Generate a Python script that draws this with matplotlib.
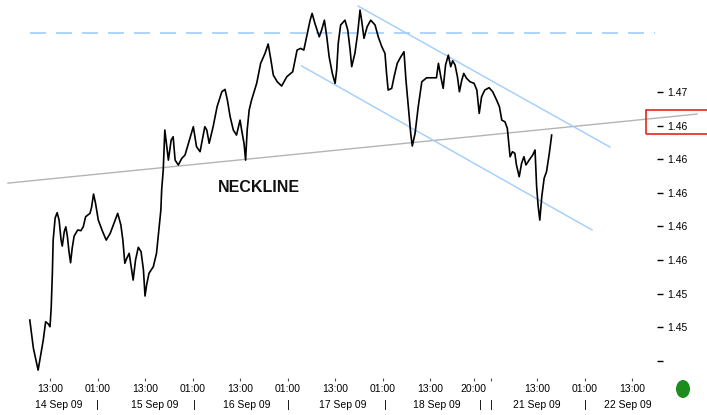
import matplotlib
matplotlib.use("Agg")
import matplotlib.pyplot as plt
from matplotlib.patches import Rectangle, Ellipse
import numpy as np

plt.rcParams['font.family'] = ['Liberation Sans', 'DejaVu Sans']

# price path, x = chart hours from 14 Sep 00:00 (weekend squeezed)
hours = [7.9, 8.8, 10.0, 11.3, 11.9, 12.6, 13.0, 13.3, 13.6, 13.8,
         14.3, 14.8, 15.3, 15.8, 16.1, 16.6, 17.0, 17.4, 17.8, 18.2,
         18.6, 19.1, 20.0, 20.8, 21.4, 22.0, 23.1, 23.5, 24.0, 24.5,
         25.2, 26.2, 27.2, 28.2, 29.0, 30.1, 30.9, 31.4, 31.9, 32.4,
         33.0, 33.5, 34.0, 34.6, 35.3, 36.0, 36.6, 37.0, 37.4, 38.0,
         39.1, 39.9, 40.5, 41.0, 41.2, 41.6, 42.0, 42.9, 43.6, 44.1,
         44.6, 45.4, 46.3, 47.1, 48.2, 49.2, 50.0, 50.9, 52.1, 52.6,
         53.2, 54.2, 55.2, 56.4, 57.2, 57.8, 58.5, 59.3, 60.1, 61.0,
         61.4, 62.0, 62.4, 62.8, 63.3, 63.9, 65.2, 66.2, 67.3, 68.1,
         68.8, 69.4, 70.4, 71.5, 72.8, 74.3, 74.9, 75.4, 76.3, 77.1,
         77.8, 78.7, 79.2, 79.9, 81.0, 81.6, 82.3, 82.9, 83.5, 84.3,
         85.0, 85.4, 85.8, 86.4, 87.5, 88.2, 88.8, 89.2, 90.0, 90.7,
         91.3, 91.7, 92.3, 93.1, 94.0, 95.1, 95.9, 96.8, 97.6, 98.0,
         98.4, 99.3, 99.9, 100.7, 101.6, 102.4, 102.9, 103.5, 104.1, 104.5,
         105.2, 106.0, 106.9, 108.1, 110.6, 111.1, 111.7, 112.3, 112.9, 113.6,
         114.2, 114.7, 115.3, 115.9, 116.4, 117.0, 117.5, 118.2, 119.1, 120.1,
         120.8, 121.4, 122.0, 122.8, 123.9, 124.8, 125.8, 126.5, 127.1, 127.9,
         128.5, 129.2, 129.8, 130.4, 130.8, 131.5, 132.1, 132.7, 133.2, 134.0,
         134.9, 135.5, 135.9, 136.3, 136.7, 137.2, 137.8, 138.4, 139.1, 139.7]
price = [1.45643, 1.45476, 1.45345, 1.45524, 1.45633, 1.45619, 1.45603, 1.45714, 1.45923, 1.46119,
         1.46250, 1.46282, 1.46238, 1.46119, 1.46083, 1.46169, 1.46198, 1.46139, 1.46050, 1.45984,
         1.46070, 1.46143, 1.46179, 1.46175, 1.46198, 1.46258, 1.46278, 1.46314, 1.46393, 1.46338,
         1.46238, 1.46175, 1.46119, 1.46159, 1.46209, 1.46278, 1.46209, 1.46119, 1.45981, 1.46011,
         1.46040, 1.45961, 1.45881, 1.46000, 1.46076, 1.46050, 1.45941, 1.45786, 1.45852, 1.45921,
         1.45961, 1.46040, 1.46179, 1.46298, 1.46417, 1.46536, 1.46774, 1.46595, 1.46714, 1.46734,
         1.46595, 1.46566, 1.46606, 1.46625, 1.46714, 1.46794, 1.46675, 1.46645, 1.46794, 1.46774,
         1.46695, 1.46794, 1.46913, 1.47002, 1.47016, 1.46952, 1.46853, 1.46774, 1.46744, 1.46833,
         1.46774, 1.46695, 1.46595, 1.46774, 1.46893, 1.46952, 1.47052, 1.47171, 1.47230, 1.47286,
         1.47190, 1.47101, 1.47061, 1.47036, 1.47091, 1.47121, 1.47190, 1.47250, 1.47260, 1.47250,
         1.47329, 1.47428, 1.47468, 1.47409, 1.47329, 1.47369, 1.47428, 1.47329, 1.47210, 1.47111,
         1.47052, 1.47131, 1.47290, 1.47399, 1.47428, 1.47369, 1.47250, 1.47151, 1.47230, 1.47349,
         1.47488, 1.47428, 1.47320, 1.47389, 1.47428, 1.47399, 1.47329, 1.47270, 1.47230, 1.47111,
         1.47012, 1.47022, 1.47091, 1.47171, 1.47210, 1.47240, 1.47071, 1.46913, 1.46754, 1.46679,
         1.46754, 1.46913, 1.47061, 1.47085, 1.47085, 1.47171, 1.47091, 1.47022, 1.47161, 1.47220,
         1.47151, 1.47186, 1.47161, 1.47091, 1.47002, 1.47071, 1.47111, 1.47082, 1.47061, 1.47052,
         1.47012, 1.46873, 1.46972, 1.47012, 1.47026, 1.47002, 1.46952, 1.46913, 1.46833, 1.46823,
         1.46784, 1.46615, 1.46645, 1.46635, 1.46566, 1.46496, 1.46576, 1.46615, 1.46566, 1.46595,
         1.46625, 1.46655, 1.46437, 1.46318, 1.46238, 1.46377, 1.46487, 1.46526, 1.46635, 1.46744]

# drawn lines (start/end)
resist_x = [7.9, 165.8]
resist_y = [1.47351, 1.47351]
neck_x = [2.4, 176.4]
neck_y = [1.46458, 1.46869]
chan_up_x = [90.8, 154.4]
chan_up_y = [1.47512, 1.46673]
chan_lo_x = [76.6, 149.9]
chan_lo_y = [1.47155, 1.46179]

# axis labels
ytick_vals = [1.470, 1.468, 1.466, 1.464, 1.462, 1.460, 1.458, 1.456, 1.454]
ytick_txt = ["1.47", "1.46", "1.46", "1.46", "1.46", "1.46", "1.45", "1.45", ""]
xtick_vals = [13, 25, 37, 49, 61, 73, 85, 97, 109, 120, 124.5, 136, 148, 160]
xtick_txt = ["13:00", "01:00", "13:00", "01:00", "13:00", "01:00", "13:00",
             "01:00", "13:00", "20:00", "", "13:00", "01:00", "13:00"]
day_pos = [15.3, 39.5, 62.7, 87.0, 110.7, 136.0, 159.0]
day_txt = ["14 Sep 09", "15 Sep 09", "16 Sep 09", "17 Sep 09",
           "18 Sep 09", "21 Sep 09", "22 Sep 09"]
sep_pos = [24.9, 49.4, 73.1, 97.6, 121.6, 124.4, 148.3]

fig = plt.figure(figsize=(7.07, 4.15), dpi=100)
ax = fig.add_axes([0.0, 37 / 415, 657 / 707, 378 / 415])

blue = "#9fcdfb"
ax.plot(resist_x, resist_y, color=blue, lw=1.2, dashes=(9.6, 6))
ax.plot(neck_x, neck_y, color="#b4b4b4", lw=1.0, clip_on=False)
ax.plot(chan_up_x, chan_up_y, color=blue, lw=1.0)
ax.plot(chan_lo_x, chan_lo_y, color=blue, lw=1.0)
ax.plot(hours, price, color="black", lw=1.2)

ax.text(65.8, 1.46429, "NECKLINE", fontsize=11.5, fontweight="bold",
        ha="center", va="center", color="#111111")

ax.set_xlim(0.374, 166.3)
ax.set_ylim(1.45298, 1.47548)
for s in ax.spines.values():
    s.set_visible(False)

ax.yaxis.tick_right()
ax.set_yticks(ytick_vals)
ax.set_yticklabels(ytick_txt)
ax.tick_params(axis="y", length=4, width=1, pad=3, labelsize=7.5, color="black")

ax.set_xticks(xtick_vals)
ax.set_xticklabels(xtick_txt)
ax.tick_params(axis="x", length=2.5, width=0.8, pad=2, labelsize=7.5, color="#555555")

tr = ax.get_xaxis_transform()
for p, t in zip(day_pos, day_txt):
    ax.text(p, -0.072, t, transform=tr, ha="center", va="center", fontsize=7.5, clip_on=False)
for p in sep_pos:
    ax.text(p, -0.072, "|", transform=tr, ha="center", va="center", fontsize=8, clip_on=False)

# red box round the price label, green status dot
fig.patches.append(Rectangle((646 / 707, 1 - 134 / 415), 64 / 707, 24 / 415,
                             transform=fig.transFigure, fill=False, edgecolor="#e8241c", lw=1.2))
fig.patches.append(Ellipse((683 / 707, 1 - 389 / 415), 14 / 707, 18 / 415,
                           transform=fig.transFigure, facecolor="#1c8c1c", edgecolor="none"))

fig.savefig("out.png", dpi=100)
